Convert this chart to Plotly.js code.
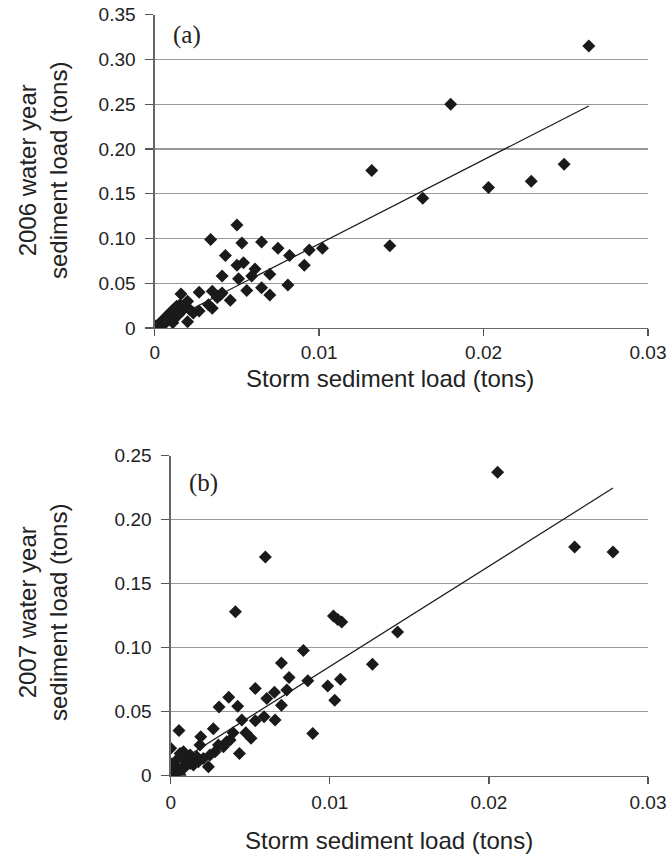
<!DOCTYPE html>
<html>
<head>
<meta charset="utf-8">
<script src="https://cdn.plot.ly/plotly-3.0.1.min.js"></script>
<style>html,body{margin:0;padding:0;background:#fff;}#chart{width:671px;height:856px;}</style>
</head>
<body>
<div id="chart"></div>
<script>
// Panel (a): 2006 water year
const stormA = [0.0264,0.0180,0.0132,0.0249,0.0229,0.0203,0.0163,0.0143,0.0102,0.0094,0.0091,0.0082,0.0075,0.0081,0.0065,0.0070,0.0065,0.0070,0.0061,0.0059,0.0056,0.0050,0.0053,0.0054,0.0050,0.0051,0.0043,0.0034,0.0041,0.0046,0.0041,0.0035,0.0035,0.0038,0.0027,0.0016,0.0020,0.0027,0.0020,0.0011,
  0.00012,0.00022,0.00032,0.00043,0.00053,0.00063,0.00073,0.00083,0.00093,0.00103,0.00114,0.00124,0.00134,0.00154,0.00174,0.00215,0.00235,0.00073,0.00032,0.00002,0.00053,0.00093,0.00144,0.00164,0.00114,0.00008,0.00327,0.00398];
const annualA = [0.315,0.250,0.176,0.183,0.164,0.157,0.145,0.092,0.089,0.087,0.070,0.081,0.089,0.048,0.096,0.060,0.045,0.037,0.066,0.058,0.042,0.115,0.095,0.073,0.070,0.055,0.081,0.099,0.058,0.031,0.039,0.041,0.022,0.034,0.040,0.038,0.030,0.019,0.007,0.006,
  0.0019,0.0037,0.0056,0.0074,0.0093,0.0112,0.013,0.0149,0.0167,0.0186,0.0205,0.0223,0.0242,0.026,0.0242,0.0205,0.0167,0.0074,0.0,0.0026,0.0037,0.0112,0.0149,0.0186,0.0093,0.0,0.026,0.037];
const fitAx = [0, 0.0264];
const fitAy = [0, 0.248];

// Panel (b): 2007 water year
const stormB = [0.02055,0.02539,0.0278,0.00595,0.00407,0.01023,0.01075,0.01050,0.01426,0.00834,0.01268,0.00696,0.00744,0.00862,0.00987,0.01067,0.01031,0.00893,0.00730,0.00652,0.00604,0.00696,0.00532,0.00365,0.00304,0.00421,0.00656,0.00587,0.00532,0.00447,0.00472,0.00505,0.00392,0.00373,0.00432,0.00268,0.00189,0.00052,0.0,0.00184,0.00300,0.00237,
  0.00122,0.00153,0.0008,0.00069,0.00038,0.00017,0.00006,0.00027,0.00048,0.00111,0.0009,0.00143,0.00205,0.00247,0.00279,0.00331,0.00352,0.00059,0.00101,0.00013,0.00038,0.0008,0.00122,0.00174,0.00006,0.00017,0.0,0.00059,0.00164];
const annualB = [0.237,0.1786,0.1747,0.1708,0.128,0.1247,0.120,0.122,0.1122,0.0979,0.087,0.088,0.0768,0.0742,0.070,0.0753,0.0589,0.033,0.0669,0.0651,0.0604,0.055,0.0682,0.0612,0.0536,0.0542,0.0435,0.046,0.043,0.0435,0.0336,0.0292,0.0336,0.0279,0.0174,0.0367,0.0305,0.0354,0.0214,0.024,0.024,0.007,
  0.0161,0.0122,0.0188,0.0148,0.0122,0.0083,0.0044,0.0018,0.0031,0.0109,0.0083,0.0083,0.0135,0.0161,0.0188,0.0227,0.0266,0.0174,0.0148,0.0005,0.0057,0.0057,0.0096,0.0109,0.0091,0.0,0.003,0.0005,0.0148];
const fitBx = [0, 0.0278];
const fitBy = [0.007, 0.2247];

const xTickVals = [0, 0.01, 0.02, 0.03];
const xTickText = ['0', '0.01', '0.02', '0.03'];
const yTickValsA = [0, 0.05, 0.10, 0.15, 0.20, 0.25, 0.30, 0.35];
const yTickTextA = ['0', '0.05', '0.10', '0.15', '0.20', '0.25', '0.30', '0.35'];
const yTickValsB = [0, 0.05, 0.10, 0.15, 0.20, 0.25];
const yTickTextB = ['0', '0.05', '0.10', '0.15', '0.20', '0.25'];

const W = 671, H = 856;
const px = v => v / W;
const py = v => 1 - v / H;

const markerStyle = {symbol: 'diamond', size: 10, color: '#1a1a1a', line: {width: 0}};
const lineStyle = {color: '#1a1a1a', width: 1.2};

const traces = [
  {x: fitAx, y: fitAy, mode: 'lines', line: lineStyle, xaxis: 'x', yaxis: 'y', hoverinfo: 'skip'},
  {x: stormA, y: annualA, mode: 'markers', marker: markerStyle, xaxis: 'x', yaxis: 'y'},
  {x: fitBx, y: fitBy, mode: 'lines', line: lineStyle, xaxis: 'x2', yaxis: 'y2', hoverinfo: 'skip'},
  {x: stormB, y: annualB, mode: 'markers', marker: markerStyle, xaxis: 'x2', yaxis: 'y2'}
];

const tickFont = {family: 'Liberation Sans, Arial, sans-serif', size: 19, color: '#222'};
const titleFont = {family: 'Liberation Sans, Arial, sans-serif', size: 24, color: '#222'};

function xAxis(domain, anchor, standoff) {
  return {
    domain: domain, anchor: anchor, range: [0, 0.03],
    tickmode: 'array', tickvals: xTickVals, ticktext: xTickText,
    ticks: 'outside', ticklen: 7, tickwidth: 1.3, tickcolor: '#555',
    ticklabelstandoff: standoff,
    showline: true, linecolor: '#666', linewidth: 1.3,
    showgrid: false, zeroline: false, tickfont: tickFont, fixedrange: true
  };
}
function yAxis(domain, anchor, maxv, vals, text) {
  return {
    domain: domain, anchor: anchor, range: [0, maxv],
    tickmode: 'array', tickvals: vals, ticktext: text,
    ticks: 'outside', ticklen: 8, tickwidth: 1.3, tickcolor: '#555',
    ticklabelstandoff: 6,
    showline: true, linecolor: '#666', linewidth: 1.3,
    showgrid: true, gridcolor: '#999', gridwidth: 1.3,
    zeroline: false, tickfont: tickFont, fixedrange: true
  };
}

const layout = {
  width: W, height: H,
  margin: {l: 0, r: 0, t: 0, b: 0},
  paper_bgcolor: '#fff', plot_bgcolor: '#fff',
  showlegend: false,
  xaxis: xAxis([px(154.7), px(648)], 'y', 0),
  yaxis: yAxis([py(328), py(14.7)], 'x', 0.35, yTickValsA, yTickTextA),
  xaxis2: xAxis([px(170.7), px(648)], 'y2', 2),
  yaxis2: yAxis([py(775.7), py(455.7)], 'x2', 0.25, yTickValsB, yTickTextB),
  annotations: [
    {text: '(a)', xref: 'paper', yref: 'paper', x: px(186.7), y: py(35), xanchor: 'center', yanchor: 'middle', showarrow: false,
     font: {family: 'Liberation Serif, Times New Roman, serif', size: 25, color: '#222'}},
    {text: '(b)', xref: 'paper', yref: 'paper', x: px(203.3), y: py(483.3), xanchor: 'center', yanchor: 'middle', showarrow: false,
     font: {family: 'Liberation Serif, Times New Roman, serif', size: 25, color: '#222'}},
    {text: 'Storm sediment load (tons)', xref: 'paper', yref: 'paper', x: px(389.5), y: py(378), xanchor: 'center', yanchor: 'middle', showarrow: false, font: titleFont},
    {text: 'Storm sediment load (tons)', xref: 'paper', yref: 'paper', x: px(389), y: py(840), xanchor: 'center', yanchor: 'middle', showarrow: false, font: titleFont},
    {text: '2006 water year<br>sediment load (tons)', xref: 'paper', yref: 'paper', x: px(43), y: py(171), xanchor: 'center', yanchor: 'middle', textangle: -90, showarrow: false, font: titleFont},
    {text: '2007 water year<br>sediment load (tons)', xref: 'paper', yref: 'paper', x: px(43), y: py(613), xanchor: 'center', yanchor: 'middle', textangle: -90, showarrow: false, font: titleFont}
  ]
};

Plotly.newPlot('chart', traces, layout, {displayModeBar: false, staticPlot: true});
</script>
</body>
</html>
